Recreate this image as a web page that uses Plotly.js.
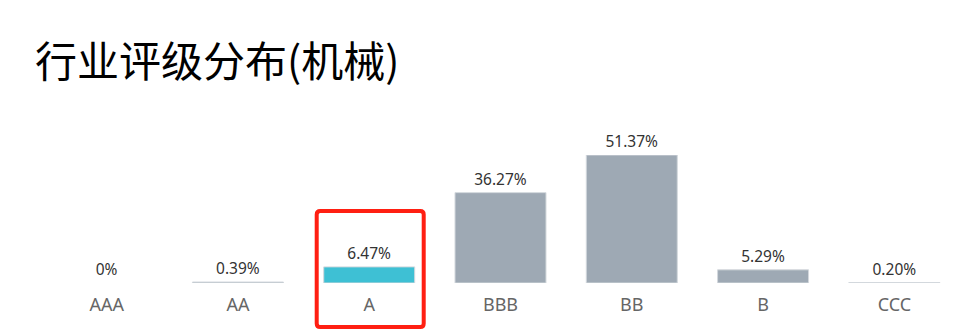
<!DOCTYPE html>
<html>
<head>
<meta charset="utf-8">
<script src="https://cdn.plot.ly/plotly-3.0.1.min.js"></script>
<style>html,body{margin:0;padding:0;background:#fff;}#chart{width:975px;height:336px;}</style>
</head>
<body>
<div id="chart"></div>
<script>
var categories = ["AAA", "AA", "A", "BBB", "BB", "B", "CCC"];
var values = [0, 0.39, 6.47, 36.27, 51.37, 5.29, 0.20];
var labels = ["0%", "0.39%", "6.47%", "36.27%", "51.37%", "5.29%", "0.20%"];
var highlight = "A";
var titleText = "行业评级分布(机械)";

var colors = categories.map(function (c) { return c === highlight ? "#3ec0d4" : "#9ea9b4"; });
var lineWidths = values.map(function (v) { return v > 0 ? 1 : 0; });

var trace = {
  type: "bar",
  x: categories,
  y: values,
  text: labels,
  textposition: "outside",
  cliponaxis: false,
  textfont: { family: "Noto Sans, Open Sans, sans-serif", size: 15.5, color: "#333333" },
  marker: { color: colors, line: { color: "#d3d8dd", width: lineWidths } },
  hoverinfo: "skip"
};

var layout = {
  width: 975,
  height: 336,
  margin: { l: 41, r: 15, t: 155, b: 53 },
  paper_bgcolor: "#ffffff",
  plot_bgcolor: "#ffffff",
  bargap: 0.307,
  showlegend: false,
  title: {
    text: titleText,
    font: { family: "Noto Sans CJK SC, sans-serif", size: 42, color: "#000000" },
    xref: "container", x: 35 / 975, xanchor: "left",
    yref: "container", y: 1 - 62 / 336, yanchor: "middle"
  },
  xaxis: {
    type: "category",
    showgrid: false, zeroline: false, showline: false, ticks: "",
    ticklabelstandoff: 9,
    tickfont: { family: "Noto Sans, Open Sans, sans-serif", size: 18, color: "#666666" },
    fixedrange: true
  },
  yaxis: {
    range: [0, 51.37],
    visible: false, showgrid: false, zeroline: false, fixedrange: true
  },
  shapes: [{
    type: "path",
    xref: "x", xsizemode: "pixel", xanchor: "A",
    yref: "paper", ysizemode: "pixel", yanchor: 0,
    path: "M -49,72 L 51,72 Q 54.5,72 54.5,68.5 L 54.5,-40.5 Q 54.5,-44 51,-44 L -49,-44 Q -52.5,-44 -52.5,-40.5 L -52.5,68.5 Q -52.5,72 -49,72 Z",
    line: { color: "#ff1f12", width: 4 },
    fillcolor: "rgba(0,0,0,0)",
    layer: "above"
  }]
};

Plotly.newPlot("chart", [trace], layout, { displayModeBar: false, staticPlot: true });
</script>
</body>
</html>
